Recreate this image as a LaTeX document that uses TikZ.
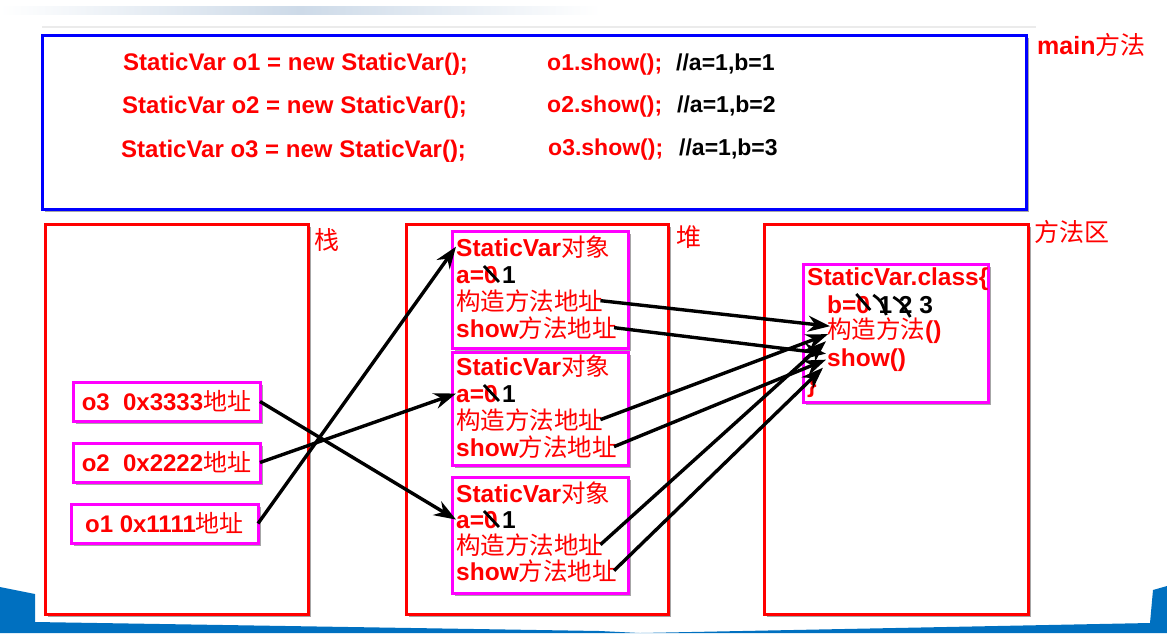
\documentclass[tikz,border=0pt]{standalone}
\usepackage{fontspec}
\setmainfont{Liberation Sans}
\newfontfamily\cjk{Noto Sans CJK SC}
\usetikzlibrary{calc,shadows,arrows.meta}
\newcommand\zh[1]{{\normalfont\cjk #1}}
\definecolor{bandblue}{HTML}{0070C0}
\definecolor{pink}{HTML}{FF00FF}
\begin{document}
\begin{tikzpicture}[x=1pt,y=-1pt,
  shad/.style={drop shadow={shadow xshift=2.5pt,shadow yshift=-2.5pt,fill=black,opacity=0.35}},
  outerbox/.style={draw=red,line width=3pt,fill=white,outer sep=0pt,anchor=north west,shad},
  objbox/.style={draw=pink,line width=3pt,fill=white,outer sep=0pt,anchor=north west,shad},
  txt/.style={anchor=base west,inner sep=0pt,text=red,font=\fontsize{24.5}{24.5}\selectfont\bfseries},
  blk/.style={txt,text=black},
  code/.style={anchor=base west,inner sep=0pt,text=red,font=\fontsize{23}{23}\selectfont\bfseries},
  cmt/.style={code,text=black},
  lbl/.style={inner sep=0pt,text=red,font=\fontsize{25}{25}\selectfont},
  arr/.style={draw=black,line width=3.4pt,-{Stealth[length=22pt,width=16pt]}},
  strike/.style={draw=black,line width=2.8pt}
]
\useasboundingbox (0,0) rectangle (1167,633);
% decorations
\shade[left color=white,right color=white,middle color={rgb,255:red,205;green,218;blue,232}] (0,6) rectangle (600,14);
\draw[black!8,line width=2pt] (42,27) -- (1036,27);
\fill[bandblue] (0,587) -- (35,594) -- (35,622) -- (600,631) -- (640,633) -- (0,633) -- cycle;
\fill[bandblue] (640,633) -- (1150,623) -- (1153,590) -- (1167,586) -- (1167,633) -- cycle;

% main box
\node[draw=blue,line width=3pt,fill=white,outer sep=0pt,anchor=north west,minimum width=984pt,minimum height=174pt,shad] (mainbox) at (42,35) {};
\node[lbl,anchor=base west] (mainlbl) at (1037,54) {{\bfseries main}\zh{方法}};
\node[code,font=\fontsize{24}{24}\selectfont\bfseries] (c1) at (123,70) {StaticVar o1 = new StaticVar();};
\node[code,font=\fontsize{24}{24}\selectfont\bfseries] (c2) at (122,113) {StaticVar o2 = new StaticVar();};
\node[code,font=\fontsize{24}{24}\selectfont\bfseries] (c3) at (121,157) {StaticVar o3 = new StaticVar();};
\node[code] (s1) at (547,70) {o1.show();};
\node[code] (s2) at (547,112) {o2.show();};
\node[code] (s3) at (548,155) {o3.show();};
\node[cmt] (k1) at (676,70) {//a=1,b=1};
\node[cmt] (k2) at (677,112) {//a=1,b=2};
\node[cmt] (k3) at (679,155) {//a=1,b=3};

% outer areas
\node[outerbox,minimum width=263pt,minimum height=390pt] (stack) at (45,224) {};
\node[outerbox,minimum width=262pt,minimum height=390pt] (heap) at (406,224) {};
\node[outerbox,minimum width=264pt,minimum height=390pt] (marea) at (764,224) {};
\node[lbl] (stacklbl) at (327,240) {\zh{栈}};
\node[lbl] (heaplbl) at (689,237) {\zh{堆}};
\node[lbl,anchor=west] (marealbl) at (1034,232) {\zh{方法区}};

% stack entries
\node[objbox,minimum width=187pt,minimum height=39pt,font=\fontsize{24}{24}\selectfont\bfseries,text=red,inner sep=0pt] (o3) at (73,382) {o3\ \ 0x3333\zh{地址}};
\node[objbox,minimum width=187pt,minimum height=39pt,font=\fontsize{24}{24}\selectfont\bfseries,text=red,inner sep=0pt] (o2) at (73,443) {o2\ \ 0x2222\zh{地址}};
\node[objbox,minimum width=187pt,minimum height=39pt,font=\fontsize{24}{24}\selectfont\bfseries,text=red,inner sep=0pt] (o1) at (71,504) {o1 0x1111\zh{地址}};

% heap objects
\node[objbox,minimum width=176pt,minimum height=117pt] (obj1) at (452,231) {};
\node[objbox,minimum width=176pt,minimum height=113pt] (obj2) at (452,352) {};
\node[objbox,minimum width=176pt,minimum height=116pt] (obj3) at (452,477) {};

\node[txt] (h1t) at (456,256) {StaticVar\zh{对象}};
\node[txt] (h1a) at (456,283) {a=0};
\node[blk] (h1v) at ($(h1a.base east)+(4,0)$) {1};
\node[txt] (h1c) at (456,310) {\zh{构造方法地址}};
\node[txt] (h1s) at (456,337) {show\zh{方法地址}};

\node[txt] (h2t) at (456,375) {StaticVar\zh{对象}};
\node[txt] (h2a) at (456,402) {a=0};
\node[blk] (h2v) at ($(h2a.base east)+(4,0)$) {1};
\node[txt] (h2c) at (456,429) {\zh{构造方法地址}};
\node[txt] (h2s) at (456,456) {show\zh{方法地址}};

\node[txt] (h3t) at (456,502) {StaticVar\zh{对象}};
\node[txt] (h3a) at (456,528) {a=0};
\node[blk] (h3v) at ($(h3a.base east)+(4,0)$) {1};
\node[txt] (h3c) at (456,554) {\zh{构造方法地址}};
\node[txt] (h3s) at (456,580) {show\zh{方法地址}};

\foreach \n in {h1a,h2a,h3a}
  \draw[strike] ($(\n.base east)+(-14,-17)$) -- ($(\n.base east)+(1,-1)$);

% method area class
\node[objbox,minimum width=185pt,minimum height=138pt] (cls) at (803,264) {};
\node[txt] (mt) at (807,285) {StaticVar.class\{};
\node[txt] (mb) at (827,313) {b=0};
\node[blk] (mbv) at ($(mb.base east)+(8,0)$) {1 2 3};
\node[txt] (mc) at (827,338) {\zh{构造方法}()};
\node[txt] (ms) at (827,366) {show()};
\node[txt] (me) at (807,392) {\}};
\draw[strike] ($(mb.base east)+(-14,-19)$) -- ($(mb.base east)+(0,-3)$);
\draw[strike] ($(mbv.base west)+(-5,-18)$) .. controls ($(mbv.base west)+(3,-12)$) .. ($(mbv.base west)+(8,2)$);
\draw[strike] ($(mbv.base west)+(15,-16)$) .. controls ($(mbv.base west)+(24,-10)$) .. ($(mbv.base west)+(32,4)$);

% arrows stack -> heap
\draw[arr] (o3.east) -- (h3a.west);
\draw[arr] (o2.east) -- (h2a.west);
\draw[arr] (o1.east) -- (h1t.west);

% arrows heap -> method area
\draw[arr] ($(h1c.east)+(-3,0)$) -- ($(mc.west)+(3,-4)$);
\draw[arr] ($(h1s.east)+(-3,0)$) -- ($(ms.west)+(-1,-6)$);
\draw[arr] ($(h2c.east)+(-3,0)$) -- ($(mc.west)+(1,4)$);
\draw[arr] ($(h2s.east)+(-3,0)$) -- ($(ms.west)+(-1,0)$);
\draw[arr] ($(h3c.east)+(-3,0)$) -- ($(mc.west)+(-1,11)$);
\draw[arr] ($(h3s.east)+(-3,0)$) -- ($(ms.west)+(-4,8)$);
\end{tikzpicture}
\end{document}
